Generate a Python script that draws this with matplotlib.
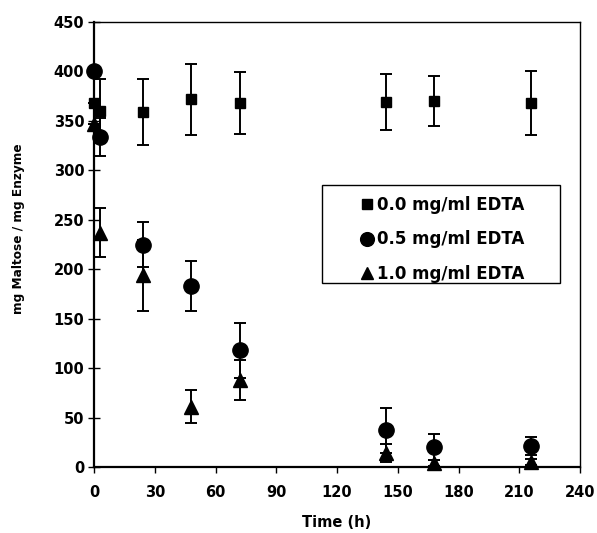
import numpy as np
import matplotlib
matplotlib.use("Agg")
import matplotlib.pyplot as plt
from matplotlib.patches import Rectangle

# time points (h)
t = [0, 3, 24, 48, 72, 144, 168, 216]

# mg maltose / mg enzyme, with error bars
edta_00 = [368, 360, 359, 372, 368, 369, 370, 368]
err_00 = [0, 32, 33, 36, 31, 28, 25, 32]
edta_05 = [400, 334, 225, 183, 118, 37, 20, 21]
err_05 = [0, 19, 23, 25, 28, 23, 13, 9]
edta_10 = [347, 237, 194, 61, 88, 14, 4, 5]
err_10 = [0, 25, 36, 17, 20, 9, 3, 3]

labels = ['0.0 mg/ml EDTA', '0.5 mg/ml EDTA', '1.0 mg/ml EDTA']

plt.rcParams['font.family'] = 'DejaVu Sans'
plt.rcParams['font.weight'] = 'bold'

fig = plt.figure(figsize=(5.97, 5.33), dpi=100)
ax = fig.add_axes([94/597, 1-467/533, 486/597, 445/533])

kw = dict(color='black', ecolor='black', elinewidth=1.4, capsize=4.5,
          capthick=1.4, linestyle='none', clip_on=False)
ax.errorbar(t, edta_00, yerr=err_00, marker='s', markersize=7.5, label=labels[0], **kw)
ax.errorbar(t, edta_05, yerr=err_05, marker='o', markersize=11, label=labels[1], **kw)
ax.errorbar(t, edta_10, yerr=err_10, marker='^', markersize=10, label=labels[2], **kw)

ax.set_xlim(0, 240)
ax.set_ylim(0, 450)
ax.set_xticks(np.arange(0, 241, 30))
ax.set_yticks(np.arange(0, 451, 50))

for s in ['left', 'bottom']:
    ax.spines[s].set_linewidth(1.6)
for s in ['top', 'right']:
    ax.spines[s].set_linewidth(1.0)

ax.tick_params(axis='y', direction='inout', length=8, width=1.0, labelsize=10.5, pad=3)
ax.tick_params(axis='x', direction='out', length=4, width=1.0, labelsize=10.5, pad=9)
for lab in ax.get_xticklabels() + ax.get_yticklabels():
    lab.set_fontweight('bold')

ax.set_xlabel('Time (h)', fontsize=10.5, fontweight='bold', labelpad=11)
ax.set_ylabel('mg Maltose / mg Enzyme', fontsize=8.7, fontweight='bold')
ax.yaxis.set_label_coords(-0.142, 0.535)

# legend box
bx, by, bw, bh = 0.469, 0.413, 0.49, 0.221
ax.add_patch(Rectangle((bx, by), bw, bh, transform=ax.transAxes,
                       facecolor='white', edgecolor='black', linewidth=1.0, zorder=4))
handles, _ = ax.get_legend_handles_labels()
handles = [h[0] for h in handles]
leg = ax.legend(handles, labels, loc='center',
                bbox_to_anchor=(bx + 0.005, by - 0.012, bw, bh),
                frameon=False, fontsize=12, handlelength=0.6, handletextpad=0.3,
                labelspacing=1.0, borderpad=0.3, markerscale=0.9)
leg.set_zorder(5)
for txt in leg.get_texts():
    txt.set_fontweight('bold')

fig.savefig('out.png', dpi=100)
